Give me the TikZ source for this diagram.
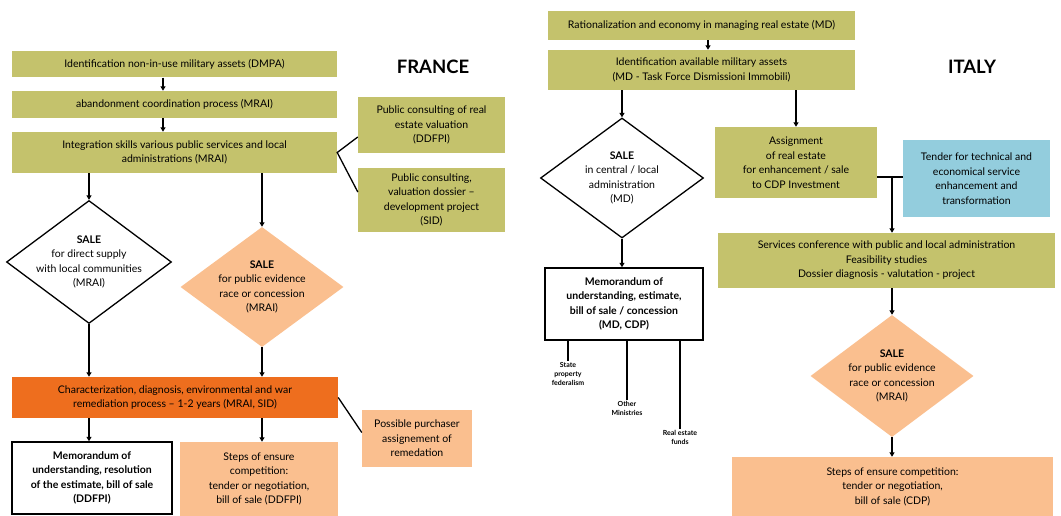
\documentclass[tikz,border=0pt]{standalone}
\usepackage{fontspec}
\setmainfont{Lato}
\usetikzlibrary{arrows.meta, shapes.geometric}
\definecolor{olivebox}{RGB}{196,194,108}
\definecolor{peach}{RGB}{250,191,143}
\definecolor{deeporange}{RGB}{238,110,30}
\definecolor{aqua}{RGB}{147,205,221}

\begin{document}
\begin{tikzpicture}[x=1pt, y=-1pt,
  font=\fontsize{10.5}{14.5}\selectfont,
  box/.style={rectangle, align=center, inner sep=2pt},
  greenbox/.style={box, fill=olivebox},
  peachbox/.style={box, fill=peach},
  orangebox/.style={box, fill=deeporange},
  bluebox/.style={box, fill=aqua},
  whitebox/.style={box, draw, line width=1.5pt, font=\fontsize{10.5}{14.5}\selectfont\bfseries},
  wdiamond/.style={diamond, draw, line width=1.3pt, inner sep=0pt},
  pdiamond/.style={diamond, fill=peach, inner sep=0pt},
  dtext/.style={align=center, inner sep=0pt},
  small/.style={align=center, inner sep=1pt, font=\fontsize{7}{9}\selectfont\bfseries},
  title/.style={font=\fontsize{18.5}{22}\selectfont\bfseries},
  arr/.style={line width=1.3pt, -{Triangle[length=4.5pt,width=5pt]}},
  ln/.style={line width=1.3pt}]
\useasboundingbox (0,0) rectangle (1061,516);

\node[greenbox, minimum width=325, minimum height=26] (idn) at (174.5,64.5) {Identification non-in-use military assets (DMPA)};
\node[greenbox, minimum width=325, minimum height=27] (aban) at (174.5,104.5) {abandonment coordination process (MRAI)};
\node[greenbox, minimum width=325, minimum height=41] (integ) at (174.5,152.5) {Integration skills various public services and local\\administrations (MRAI)};
\node[title] (fr) at (433,67) {FRANCE};
\node[greenbox, minimum width=147, minimum height=56] (dval) at (431.5,125) {Public consulting of real\\estate valuation\\(DDFPI)};
\node[greenbox, minimum width=147, minimum height=64] (dsid) at (431.5,200) {Public consulting,\\valuation dossier --\\development project\\(SID)};
\node[wdiamond, minimum width=165, minimum height=123] (sdir) at (89,262) {};
\node[dtext] (sdirt) at (sdir) {\textbf{SALE}\\for direct supply\\with local communities\\(MRAI)};
\node[pdiamond, minimum width=163, minimum height=120] (spub) at (262,287) {};
\node[dtext] (spubt) at (spub) {\textbf{SALE}\\for public evidence\\race or concession\\(MRAI)};
\node[orangebox, minimum width=326, minimum height=41] (rem) at (175,397.5) {Characterization, diagnosis, environmental and war\\remediation process -- 1-2 years (MRAI, SID)};
\node[whitebox, minimum width=160, minimum height=72] (mou) at (92,478) {Memorandum of\\understanding, resolution\\of the estimate, bill of sale\\(DDFPI)};
\node[peachbox, minimum width=158, minimum height=74] (stepsf) at (259,479) {Steps of ensure\\competition:\\tender or negotiation,\\bill of sale (DDFPI)};
\node[peachbox, minimum width=110, minimum height=57] (purch) at (417,438.5) {Possible purchaser\\assignement of\\remedation};

\draw[arr] ([xshift=-11.5]idn.south) -- ([xshift=-11.5]aban.north);
\draw[arr] ([xshift=-11.5]aban.south) -- ([xshift=-11.5]integ.north);
\draw[ln] ([yshift=-12]dval.west) -- (integ.east) -- ([yshift=8]dsid.west);
\draw[arr] (integ.south -| sdir.north) -- (sdir.north);
\draw[arr] (integ.south -| spub.north) -- (spub.north);
\draw[arr] (sdir.south) -- (rem.north -| sdir.south);
\draw[arr] (spub.south) -- (rem.north -| spub.south);
\draw[arr] (rem.south -| sdir.south) -- (mou.north -| sdir.south);
\draw[arr] (rem.south -| spub.south) -- (stepsf.north -| spub.south);
\draw[ln] (rem.east) -- ([yshift=6]purch.west);

\node[greenbox, minimum width=307, minimum height=29] (rat) at (701.5,25.5) {Rationalization and economy in managing real estate (MD)};
\node[greenbox, minimum width=307, minimum height=40] (idav) at (701.5,70) {Identification available military assets\\(MD - Task Force Dismissioni Immobili)};
\node[title] (it) at (972,67) {ITALY};
\node[wdiamond, minimum width=163, minimum height=120] (scen) at (622,178) {};
\node[dtext] (scent) at (scen) {\textbf{SALE}\\in central / local\\administration\\(MD)};
\node[whitebox, minimum width=158, minimum height=72] (moui) at (624,304) {Memorandum of\\understanding, estimate,\\bill of sale / concession\\(MD, CDP)};
\node[small] (fed) at (568,374) {State\\property\\federalism};
\node[small] (mins) at (627,408) {Other\\Ministries};
\node[small] (fund) at (680,437) {Real estate\\funds};
\node[greenbox, minimum width=162, minimum height=71] (assg) at (796,162.5) {Assignment\\of real estate\\for enhancement / sale\\to CDP Investment};
\node[bluebox, minimum width=147, minimum height=77] (tender) at (976.5,178.5) {Tender for technical and\\economical service\\enhancement and\\transformation};
\node[greenbox, minimum width=337, minimum height=55] (servc) at (886.5,260.5) {Services  conference with public and local administration\\Feasibility studies\\Dossier diagnosis - valutation - project};
\node[pdiamond, minimum width=163, minimum height=122] (sitaly) at (892,376) {};
\node[dtext] (sitalyt) at (sitaly) {\textbf{SALE}\\for public evidence\\race or concession\\(MRAI)};
\node[peachbox, minimum width=321, minimum height=59] (stepsi) at (892.5,486.5) {Steps of ensure competition:\\tender or negotiation,\\bill of sale (CDP)};
\coordinate (split) at (892,177);

\draw[arr] ([xshift=6.5]rat.south) -- ([xshift=6.5]idav.north);
\draw[arr] (idav.south -| scen.north) -- (scen.north);
\draw[arr] (idav.south -| assg.north) -- (assg.north);
\draw[arr] (scen.south) -- (moui.north -| scen.south);
\draw[ln] (moui.south -| fed.north) -- (fed.north);
\draw[ln] (moui.south -| mins.north) -- (mins.north);
\draw[ln] (moui.south -| fund.north) -- (fund.north);
\draw[ln] (assg.east |- split) -- (tender.west |- split);
\draw[arr] (split) -- (servc.north -| split);
\draw[arr] (servc.south -| sitaly.north) -- (sitaly.north);
\draw[arr] (sitaly.south) -- (stepsi.north -| sitaly.south);
\end{tikzpicture}
\end{document}
